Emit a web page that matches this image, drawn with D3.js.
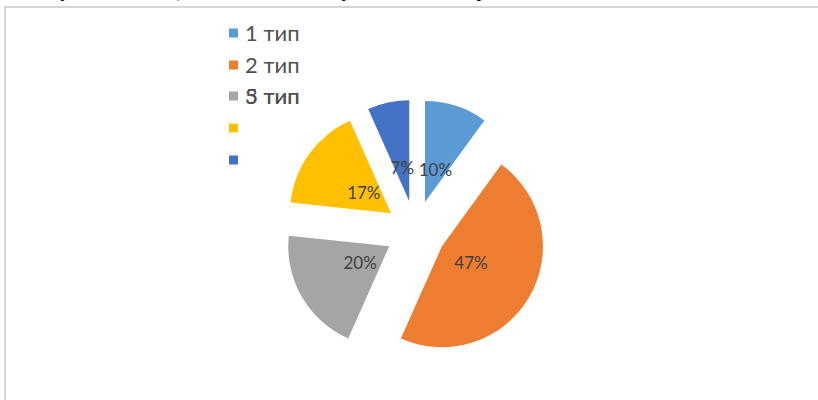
<!DOCTYPE html>
<html>
<head>
<meta charset="utf-8">
<script src="https://cdn.jsdelivr.net/npm/d3@7"></script>
<style>
  body { margin: 0; background: #fff; }
  svg { display: block; }
</style>
</head>
<body>
<svg id="canvas" width="818" height="400"></svg>
<script>
// Chart data
let categories = ["1 тип", "2 тип", "3 тип", "4 тип", "5 тип"];
let values = [3, 14, 6, 5, 2];
let colors = ["#5b9bd5", "#ed7d31", "#a5a5a5", "#ffc000", "#4472c4"];

let width = 818;
let height = 400;
let cx = 415.6, cy = 231;
let radius = 101;
let explode = 30.4;
let labelRadius = 64;

let canvas = d3.select("#canvas");

// cut-off line of the surrounding document text (only descenders show)
canvas.append("text")
    .attr("x", 40)
    .attr("y", -3)
    .attr("font-family", "Liberation Serif")
    .attr("font-size", 19)
    .attr("fill", "#000")
    .text("Эту часть таблицы мы относим к типу, она является при этом более");

// chart frame
canvas.append("path")
    .attr("d", `M5,${height} L5,7 L${width},7`)
    .attr("fill", "none")
    .attr("stroke", "#c8c8c8")
    .attr("stroke-width", 1.5);

let total = d3.sum(values);
let pie = d3.pie().sort(null).value(d => d);
let arcs = pie(values);
let arc = d3.arc().innerRadius(0).outerRadius(radius);

let g = canvas.append("g").attr("transform", `translate(${cx},${cy})`);

function offset(d, k) {
    let a = (d.startAngle + d.endAngle) / 2;
    return [k * Math.sin(a), -k * Math.cos(a)];
}

g.selectAll("path.slice")
    .data(arcs)
    .enter()
    .append("path")
    .classed("slice", true)
    .attr("fill", (d, i) => colors[i])
    .attr("transform", d => `translate(${offset(d, explode)})`)
    .attr("d", arc);

g.selectAll("text.label")
    .data(arcs)
    .enter()
    .append("text")
    .classed("label", true)
    .attr("x", d => offset(d, labelRadius)[0])
    .attr("y", d => offset(d, labelRadius)[1])
    .attr("text-anchor", "middle")
    .attr("dy", "0.35em")
    .attr("font-family", "Lato")
    .attr("font-size", 17)
    .attr("fill", "#404040")
    .text(d => Math.round(d.value / total * 100) + "%");

// legend: the last names are drawn on the third row
let legendRows = [33, 65, 96, 128, 160];
let legendTextRows = [33, 65, 96, 96, 96];
let legend = canvas.append("g");
legend.selectAll("rect")
    .data(categories)
    .enter()
    .append("rect")
    .attr("x", 229)
    .attr("y", (d, i) => legendRows[i] - 4.5)
    .attr("width", 9)
    .attr("height", 9)
    .attr("fill", (d, i) => colors[i]);
legend.selectAll("text")
    .data(categories)
    .enter()
    .filter((d, i) => i !== 3)
    .append("text")
    .attr("x", 245)
    .attr("y", (d, i) => legendTextRows[i] + 7.5)
    .attr("font-family", "Lato")
    .attr("font-size", 22)
    .attr("fill", "#505050")
    .text(d => d);
</script>
</body>
</html>
